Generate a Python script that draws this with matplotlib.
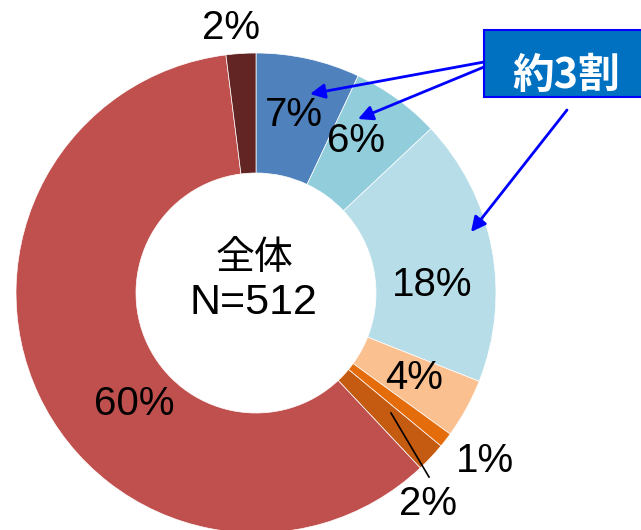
import matplotlib.pyplot as plt

# ---- data ----
categories = ['A', 'B', 'C', 'D', 'E', 'F', 'G', 'H']
shares = [7, 6, 18, 4, 1, 2, 60, 2]
colors = ['#4F81BD', '#92CDDC', '#B7DEE8', '#FAC090',
          '#E46C0A', '#C55A11', '#C0504D', '#632523']
center_title = '全体'
n_total = 512
callout_text = '約3割'

W, H = 641, 530


def Y(y):
    # pixel rows counted from the top
    return H - y


fig = plt.figure(figsize=(W / 100, H / 100), dpi=100)
ax = fig.add_axes([0, 0, 1, 1])

cx, cy, R = 256, Y(293), 240
ax.pie(shares, colors=colors, startangle=90, counterclock=False,
       radius=R, center=(cx, cy),
       wedgeprops=dict(width=R / 2, edgecolor='white', linewidth=0.5))

ax.set_xlim(0, W)
ax.set_ylim(0, H)
ax.set_aspect('auto')
ax.axis('off')

# percentage labels (placed by hand, like the original slide)
label_pos = [(294, 115), (356, 141), (432, 285), (414, 378),
             (485, 461), (428, 504), (134, 404), (231, 28)]
for v, (x, y) in zip(shares, label_pos):
    ax.text(x, Y(y), f'{v}%', ha='center', va='center',
            fontsize=29, family='Liberation Sans', color='black')

# leader line for the small 2% slice
ax.plot([391, 429], [Y(413), Y(477)], color='black', lw=1.2)

# centre text
ax.text(254, Y(258), center_title, ha='center', va='center',
        fontsize=28, family=['Noto Sans CJK JP', 'DejaVu Sans'])
ax.text(253, Y(303), f'N={n_total}', ha='center', va='center',
        fontsize=31, family='Liberation Sans')

# callout box
ax.text(566, Y(76), callout_text, ha='center', va='center',
        fontsize=30, fontweight='bold', color='white',
        family=['Noto Sans CJK JP', 'DejaVu Sans'])
box = plt.Rectangle((484, Y(97)), 170, 67, facecolor='#0070C0',
                    edgecolor='#0000FF', lw=1.5, zorder=0.5)
ax.add_patch(box)

arrow = dict(arrowstyle='-|>', color='#0000FF', lw=2, mutation_scale=22,
             shrinkA=0, shrinkB=0)
ax.annotate('', xy=(310, Y(94)), xytext=(484, Y(62)), arrowprops=arrow)
ax.annotate('', xy=(358, Y(119)), xytext=(484, Y(67)), arrowprops=arrow)
ax.annotate('', xy=(471, Y(232)), xytext=(567, Y(110)), arrowprops=arrow)

plt.savefig('out.png', dpi=100)
plt.close()
